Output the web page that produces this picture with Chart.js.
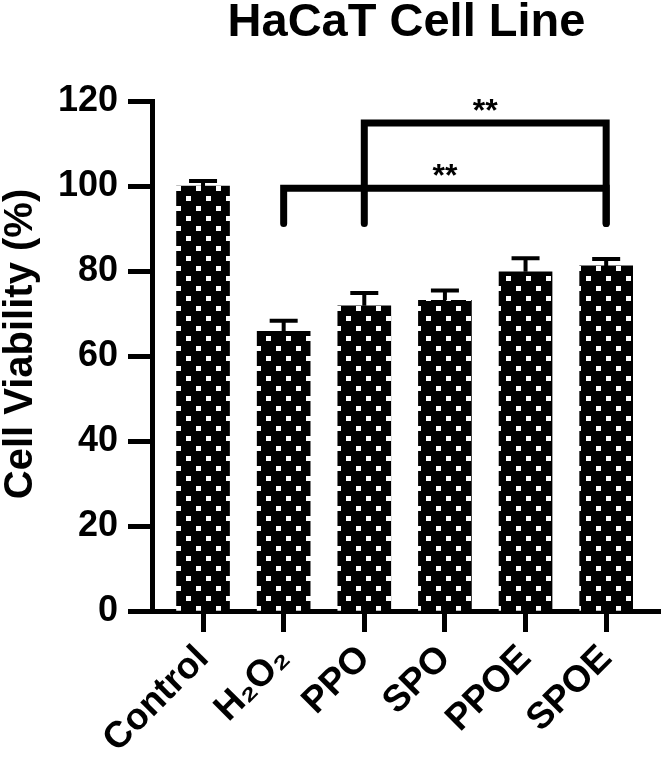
<!DOCTYPE html>
<html>
<head>
<meta charset="utf-8">
<script src="https://cdn.jsdelivr.net/npm/chart.js@4.4.1/dist/chart.umd.min.js"></script>
<style>
  body { margin: 0; background: #fff; }
  #wrap { width: 661px; height: 757px; }
</style>
</head>
<body>
<div id="wrap"><canvas id="viability"></canvas></div>
<script>
const categories = ['Control', 'H₂O₂', 'PPO', 'SPO', 'PPOE', 'SPOE']
const viability = [100, 65.8, 71.8, 73.1, 79.8, 81.2]
const errors = [1.2, 2.5, 3.0, 2.3, 3.2, 1.6]
const yTicks = [0, 20, 40, 60, 80, 100, 120]
// significance brackets: from/to category index, bar height and leg end (data units)
const bracketFrom = [1, 2]
const bracketTo = [5, 5]
const bracketY = [99.5, 114.8]
const bracketLeg = [91.2, 91.2]
const bracketText = ['**', '**']

const FONT = '"Liberation Sans", Arial, sans-serif'

function dotPattern() {
  const c = document.createElement('canvas')
  c.width = 20
  c.height = 20
  const g = c.getContext('2d')
  g.fillStyle = '#000'
  g.fillRect(0, 0, 20, 20)
  g.fillStyle = '#fff'
  g.fillRect(6, 16, 5, 5)
  g.fillRect(6, -4, 5, 5)
  g.fillRect(16, 6, 5, 5)
  g.fillRect(-4, 6, 5, 5)
  return g.createPattern(c, 'repeat')
}

const extras = {
  id: 'extras',
  afterDatasetsDraw(chart) {
    const ctx = chart.ctx
    const x = chart.scales.x
    const y = chart.scales.y
    ctx.save()
    ctx.strokeStyle = '#000'
    ctx.fillStyle = '#000'
    // error bars
    ctx.lineWidth = 4
    for (let i = 0; i < viability.length; i++) {
      const px = x.getPixelForValue(i)
      const top = y.getPixelForValue(viability[i] + errors[i])
      const base = y.getPixelForValue(viability[i])
      ctx.beginPath()
      ctx.moveTo(px, base)
      ctx.lineTo(px, top)
      ctx.moveTo(px - 14, top)
      ctx.lineTo(px + 14, top)
      ctx.stroke()
    }
    // brackets
    ctx.lineWidth = 7
    ctx.lineCap = 'round'
    ctx.lineJoin = 'miter'
    ctx.font = 'bold 32px ' + FONT
    ctx.textAlign = 'center'
    ctx.textBaseline = 'alphabetic'
    for (let b = 0; b < bracketFrom.length; b++) {
      const x1 = x.getPixelForValue(bracketFrom[b])
      const x2 = x.getPixelForValue(bracketTo[b])
      const by = y.getPixelForValue(bracketY[b])
      const ly = y.getPixelForValue(bracketLeg[b])
      ctx.beginPath()
      ctx.moveTo(x1, ly)
      ctx.lineTo(x1, by)
      ctx.lineTo(x2, by)
      ctx.lineTo(x2, ly)
      ctx.stroke()
      ctx.fillText(bracketText[b], (x1 + x2) / 2, by - 2)
    }
    // titles
    ctx.font = 'bold 47px ' + FONT
    ctx.fillText('HaCaT Cell Line', (chart.chartArea.left + chart.chartArea.right) / 2, 36)
    ctx.translate(32, 344)
    ctx.rotate(-Math.PI / 2)
    ctx.font = 'bold 40px ' + FONT
    ctx.fillText('Cell Viability (%)', 0, 0)
    ctx.restore()
  }
}

new Chart(document.getElementById('viability'), {
  type: 'bar',
  data: {
    datasets: [{
      data: viability.map((v, i) => ({ x: i, y: v })),
      backgroundColor: dotPattern(),
      borderWidth: 0,
      barThickness: 53
    }]
  },
  options: {
    responsive: true,
    maintainAspectRatio: false,
    animation: false,
    layout: { padding: { top: 101, right: 0, left: 0, bottom: 0 } },
    plugins: { legend: { display: false }, tooltip: { enabled: false } },
    scales: {
      x: {
        type: 'linear',
        offset: false,
        min: -0.633,
        max: 5.68,
        afterFit: s => { s.height = 146 },
        afterBuildTicks: s => { s.ticks = categories.map((c, i) => ({ value: i })) },
        grid: { offset: false, drawOnChartArea: false, tickLength: 21, tickWidth: 5, tickColor: '#000' },
        border: { width: 5, color: '#000' },
        ticks: {
          autoSkip: false,
          minRotation: 45,
          maxRotation: 45,
          padding: 5,
          color: '#000',
          font: { family: FONT, size: 37, weight: 'bold' },
          callback: v => categories[v]
        }
      },
      y: {
        min: 0,
        max: 120,
        afterFit: s => { s.width = 152 },
        afterBuildTicks: s => { s.ticks = yTicks.map(v => ({ value: v })) },
        grid: { drawOnChartArea: false, tickLength: 24, tickWidth: 5, tickColor: '#000' },
        border: { width: 5, color: '#000' },
        ticks: {
          padding: 10,
          color: '#000',
          font: { family: FONT, size: 36, weight: 'bold' }
        }
      }
    }
  },
  plugins: [extras]
})
</script>
</body>
</html>
